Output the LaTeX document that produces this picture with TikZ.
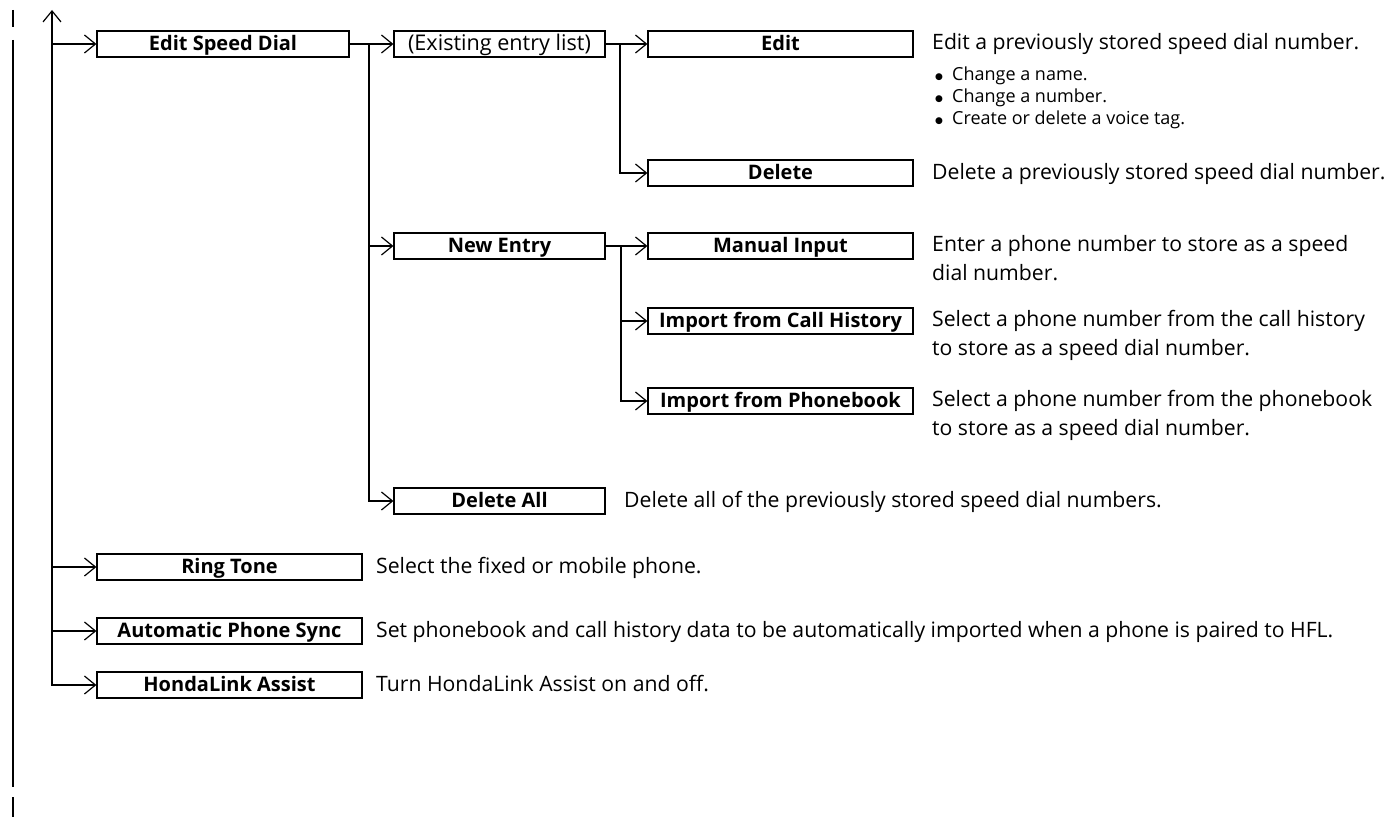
\documentclass[tikz,border=0pt]{standalone}
\usepackage{fontspec}
\setmainfont{Open Sans}
\newfontfamily\djv{DejaVu Sans}
\usetikzlibrary{arrows.meta}
\tikzset{
  box/.style={draw, line width=1.2bp, minimum height=26bp, inner sep=0pt, text height=14.5bp, text depth=1bp, font=\fontsize{20bp}{24bp}\selectfont\bfseries},
  bxwide/.style={box, minimum width=265bp},
  bxesd/.style={box, minimum width=252bp},
  bxmid/.style={box, minimum width=211bp},
  conn/.style={line width=2.2bp},
  arr/.style={conn, -{Straight Barb[length=11bp,width=18bp,line width=1.2bp]}},
  desc/.style={anchor=north west, inner sep=0pt, align=left, font=\fontsize{21.2bp}{29bp}\selectfont},
  bul/.style={anchor=north west, inner sep=0pt, align=left, font=\fontsize{18bp}{22bp}\selectfont},
  rail/.style={line width=2.5bp},
}
\newcommand{\bl}{\makebox[17bp][l]{\raisebox{1.2bp}{\djv\fontsize{9bp}{9bp}\selectfont ●}}}
\begin{document}
\begin{tikzpicture}[x=1bp,y=-1bp]
\useasboundingbox (0,0) rectangle (1387,817);
% left margin rail
\draw[rail] (13,10) -- (13,27);
\draw[rail] (13,40) -- (13,787);
\draw[rail] (13,797) -- (13,817);

% boxes
\node[bxesd] (esd) at (223,44) {Edit Speed Dial};
\node[bxmid, font=\fontsize{21.6bp}{24bp}\selectfont] (eel) at (499.5,44) {(Existing entry list)};
\node[bxwide] (edit) at (780.5,44) {Edit};
\node[bxwide] (del) at (780.5,173) {Delete};
\node[bxmid] (new) at (499.5,246) {New Entry};
\node[bxwide] (man) at (780.5,246) {Manual Input};
\node[bxwide] (ich) at (780.5,321) {Import from Call History};
\node[bxwide] (ipb) at (780.5,401) {Import from Phonebook};
\node[bxmid] (dall) at (499.5,501) {Delete All};
\node[bxwide] (ring) at (229.5,567) {Ring Tone};
\node[bxwide] (aps) at (229.5,631) {Automatic Phone Sync};
\node[bxwide] (hla) at (229.5,685) {HondaLink Assist};

% junctions
\coordinate (top) at (52,10);
\coordinate (j1) at (369,44);
\coordinate (j2) at (620,44);
\coordinate (j3) at (621,246);

% trunk
\draw[conn, {Straight Barb[length=11bp,width=18bp,line width=1.2bp]}-{Straight Barb[length=11bp,width=18bp,line width=1.2bp]}] (top) |- (hla.west);
\draw[arr] (top |- esd) -- (esd.west);
\draw[arr] (top |- ring) -- (ring.west);
\draw[arr] (top |- aps) -- (aps.west);

% level 2
\draw[arr] (esd.east) -- (eel.west);
\draw[arr] (j1) |- (dall.west);
\draw[arr] (j1 |- new) -- (new.west);

% level 3
\draw[arr] (eel.east) -- (edit.west);
\draw[arr] (j2) |- (del.west);
\draw[arr] (new.east) -- (man.west);
\draw[arr] (j3) |- (ipb.west);
\draw[arr] (j3 |- ich) -- (ich.west);

% descriptions
\node[desc] (dedit) at (932,29.3) {\strut Edit a previously stored speed dial number.};
\node[bul] (dbul) at (935,64.6) {\strut\bl Change a name.\\\strut\bl Change a number.\\\strut\bl Create or delete a voice tag.};
\node[desc] (ddel) at (932,159.3) {\strut Delete a previously stored speed dial number.};
\node[desc] (dman) at (932,231.3) {\strut Enter a phone number to store as a speed\\\strut dial number.};
\node[desc] (dich) at (932,306.3) {\strut Select a phone number from the call history\\\strut to store as a speed dial number.};
\node[desc] (dipb) at (932,386.3) {\strut Select a phone number from the phonebook\\\strut to store as a speed dial number.};
\node[desc] (ddall) at (624,487.3) {\strut Delete all of the previously stored speed dial numbers.};
\node[desc] (dring) at (376,553.3) {\strut Select the fixed or mobile phone.};
\node[desc] (daps) at (376,617.3) {\strut Set phonebook and call history data to be automatically imported when a phone is paired to HFL.};
\node[desc] (dhla) at (376,671.3) {\strut Turn HondaLink Assist on and off.};
\end{tikzpicture}
\end{document}
